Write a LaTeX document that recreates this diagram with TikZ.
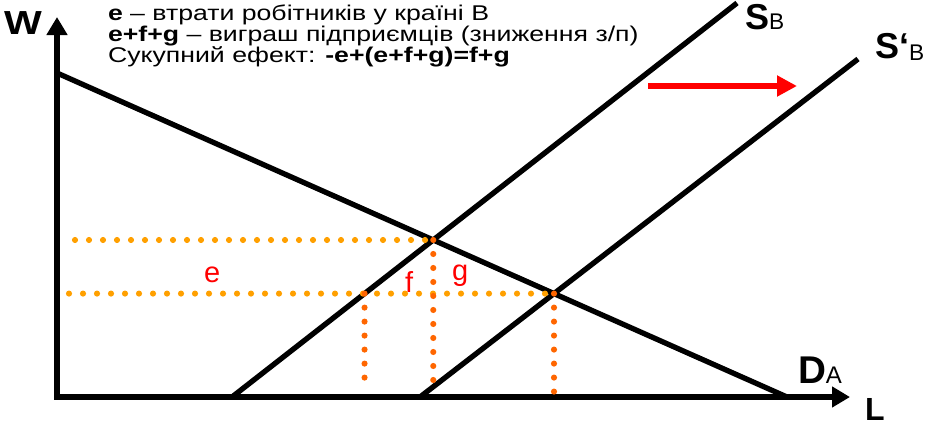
\documentclass[tikz,border=0pt]{standalone}
\usepackage{fontspec}
\setmainfont{Liberation Sans}
\usetikzlibrary{arrows.meta}
\definecolor{dotA}{RGB}{255,160,0}
\definecolor{dotB}{RGB}{255,102,0}
\definecolor{redline}{RGB}{255,0,0}
\newcommand{\fs}[1]{\fontsize{#1}{#1}\selectfont}
\newcommand{\wide}[1]{\scalebox{1.25}[1]{#1}}
\begin{document}
\begin{tikzpicture}[x=0.75pt,y=-0.75pt,
  curveline/.style={line width=4pt},
  axisline/.style={line width=4.5pt, line join=miter,
    {Triangle[length=13.5pt,width=15pt]}-{Triangle[length=13.5pt,width=15pt]}},
  dotsA/.style={dotA, line width=4.6pt, line cap=round, dash pattern=on 0pt off 10.5pt},
  dotsB/.style={dotB, line width=4.6pt, line cap=round, dash pattern=on 0pt off 10.5pt},
  redarr/.style={redline, line width=4.5pt, -{Triangle[length=15pt,width=15pt]}},
  lbl/.style={inner sep=0pt, outer sep=0pt, anchor=base west},
  txt/.style={lbl, font=\fs{16pt}},
  area/.style={lbl, text=redline, font=\fs{21.75pt}}]
\useasboundingbox (0,0) rectangle (928,425);

% key points
\coordinate (O) at (57,397);
\coordinate (Wtop) at (57,17);
\coordinate (Lend) at (850,397);
\coordinate (D1) at (57,73);
\coordinate (D2) at (787,397);
\coordinate (S1) at (232,397);
\coordinate (S2) at (737,3);
\coordinate (T1) at (420,397);
\coordinate (T2) at (858,59);
\coordinate (E1) at (intersection of D1--D2 and S1--S2);
\coordinate (E2) at (intersection of D1--D2 and T1--T2);
\coordinate (hx1) at (75,0);
\coordinate (hx2) at (69,0);
\coordinate (H1) at (E1 -| hx1);
\coordinate (H2) at (E2 -| hx2);
\coordinate (F) at (intersection of S1--S2 and H2--E2);
\coordinate (b1) at (0,387);
\coordinate (b2) at (0,386);
\coordinate (b3) at (0,393);
\coordinate (V1) at (F |- b1);
\coordinate (V2) at (E1 |- b2);
\coordinate (V3) at (E2 |- b3);
\coordinate (ra1) at (648,86);
\coordinate (ra2) at (797,86);

% curves
\draw[curveline] (D1) -- (D2);
\draw[curveline] (S1) -- (S2);
\draw[curveline] (T1) -- (T2);
\draw[axisline] (Wtop) -- (O) -- (Lend);

% dotted guides
\draw[dotsA] (H1) -- (E1);
\draw[dotsA] (H2) -- (E2);
\draw[dotsB] (F) -- (V1);
\draw[dotsB] (E1) -- (V2);
\draw[dotsB] (E2) -- (V3);

% shift arrow
\draw[redarr] (ra1) -- (ra2);

% text block
\node[txt] (t1) at (108,20) {\wide{\textbf{e} – втрати робітників у країні В}};
\node[txt] (t2) at (108,41) {\wide{\textbf{e+f+g} – виграш підприємців (зниження з/п)}};
\node[txt] (t3) at (108,62) {\wide{Сукупний ефект: \textbf{-e+(e+f+g)=f+g}}};

% axis labels
\node[lbl, font=\fs{25pt}\bfseries] (W) at (4,34) {\scalebox{1.2}[1]{W}};
\node[lbl, font=\fs{24pt}\bfseries] (L) at (865,420) {L};
\node[lbl] (DA) at (798,383) {{\fs{29pt}\bfseries D}{\fs{18pt}A}};
\node[lbl] (SB) at (745,29) {{\fs{27pt}\bfseries S}{\fs{17pt}B}};
\node[lbl] (SpB) at (875,58) {{\fs{27pt}\bfseries S`}\raisebox{-2pt}{\fs{17pt}B}};

% area labels
\node[area] (le) at (204,282) {e};
\node[area] (lf) at (405,292) {f};
\node[area] (lg) at (452,280) {g};
\end{tikzpicture}
\end{document}
